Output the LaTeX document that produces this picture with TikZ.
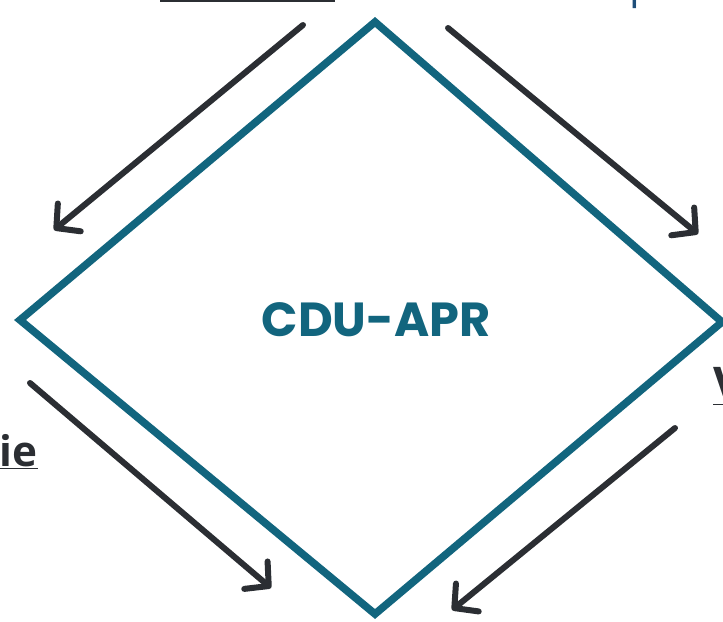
\documentclass[tikz,border=0pt]{standalone}
\usepackage{fontspec}
\usepackage{xcolor}
\usepackage{tikz}
\usetikzlibrary{calc}
\usetikzlibrary{arrows.meta}
\usetikzlibrary{positioning}
\newfontfamily\titlefont{Poppins}
\newfontfamily\labelfont{Open Sans}
\definecolor{cdublue}{HTML}{12657E}
\definecolor{arrowgray}{HTML}{2B2E33}
\definecolor{textblue}{HTML}{1F4E79}
\tikzset{
  edge/.style = {draw = cdublue, line width = 0.19cm, line join = miter},
  flow/.style = {draw = arrowgray, line width = 0.15cm, line cap = round,
    -{Straight Barb[length = 0.42cm, width = 0.9cm, line cap = round, line join = round]}},
  lab/.style = {inner sep = 0pt, text = arrowgray, font = \labelfont\bfseries\fontsize{30}{34}\selectfont}
}
\begin{document}
\begin{tikzpicture}[x = 0.025cm, y = -0.025cm]
\useasboundingbox (0, 0) rectangle (723, 622);
\clip (0, 0) rectangle (723, 622);
% diamond
\coordinate (T) at (375, 22);
\coordinate (L) at (20, 320);
\coordinate (R) at (722, 322);
\coordinate (B) at (375, 614);
\draw [edge] (T) -- (L) -- (B) -- (R) -- cycle;
\node [inner sep = 0pt, text = cdublue, font = \titlefont\bfseries\fontsize{34}{38}\selectfont] (C) at (376, 320) {CDU-APR};
% labels cut by the frame
\node [lab, anchor = base east] (S) at (38, 466) {\underline{ie}};
\node [lab, anchor = base west, font = \labelfont\bfseries\fontsize{34}{38}\selectfont] (V) at (713, 402) {\underline{V}};
\node [inner sep = 0pt, anchor = base west, text = textblue, font = \labelfont\fontsize{30}{34}\selectfont] (O) at (604, -1) {ope};
\coordinate (U1) at (160, 0);
\coordinate (U2) at (335, 0);
\draw [draw = arrowgray, line width = 0.09cm] (U1) -- (U2);
% arrows
\coordinate (a1) at (303, 25);
\coordinate (a2) at (54, 230);
\coordinate (b1) at (448, 28);
\coordinate (b2) at (698, 234);
\coordinate (c1) at (30, 383);
\coordinate (c2) at (271, 588);
\coordinate (d1) at (675, 428);
\coordinate (d2) at (452, 610);
\draw [flow] (a1) to (a2);
\draw [flow] (b1) to (b2);
\draw [flow] (c1) to (c2);
\draw [flow] (d1) to (d2);
\end{tikzpicture}
\end{document}
